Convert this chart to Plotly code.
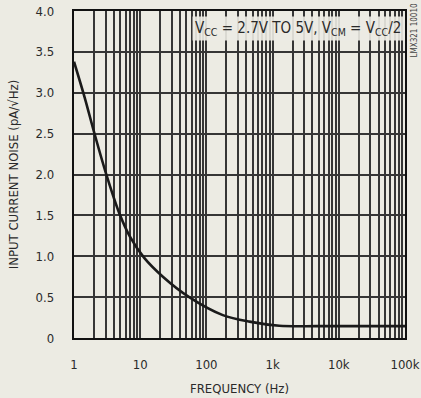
import plotly.graph_objects as go

# Input current noise vs frequency
freq_hz = [1, 1.44, 2.04, 3.0, 4.87, 7, 11.5, 22, 55, 177, 447, 1260, 5000, 100000]
noise_pa = [3.38, 2.95, 2.5, 2.03, 1.52, 1.24, 0.98, 0.75, 0.5, 0.28, 0.2, 0.15, 0.145, 0.145]

decades = [1, 10, 100, 1000, 10000, 100000]
decade_labels = ["1", "10", "100", "1k", "10k", "100k"]
y_ticks = [0, 0.5, 1.0, 1.5, 2.0, 2.5, 3.0, 3.5, 4.0]
y_labels = ["0", "0.5", "1.0", "1.5", "2.0", "2.5", "3.0", "3.5", "4.0"]

# every 1..9 multiple gets a grid line; only decades carry a label
x_vals, x_text = [], []
for d, lab in zip(decades, decade_labels):
    if d == decades[-1]:
        x_vals.append(d)
        x_text.append(lab)
        break
    for m in range(1, 10):
        x_vals.append(d * m)
        x_text.append(lab if m == 1 else "")

BG = "#ecebe3"
FONT = "DejaVu Sans Condensed, Liberation Sans Narrow, Arial Narrow, sans-serif"
INK = "#2a2a2a"

fig = go.Figure()
fig.add_trace(go.Scatter(
    x=freq_hz, y=noise_pa, mode="lines",
    line=dict(color="#1a1a1a", width=2.6, shape="spline", smoothing=0.9),
    showlegend=False,
))

fig.update_layout(
    width=421, height=398,
    margin=dict(l=74, r=16, t=11, b=60),
    paper_bgcolor=BG, plot_bgcolor=BG,
    font=dict(family=FONT, size=13, color=INK),
    xaxis=dict(
        type="log", range=[0, 5], automargin=False,
        tickvals=x_vals, ticktext=x_text,
        ticks="outside", ticklen=13, tickcolor=BG,
        showgrid=True, gridcolor="#363636", gridwidth=1.5,
        showline=True, linecolor="#111", linewidth=2.4, mirror=True,
        zeroline=False,
        title=dict(text="FREQUENCY (Hz)", font=dict(size=13), standoff=13),
        tickfont=dict(size=13),
    ),
    yaxis=dict(
        range=[0, 4.0], automargin=False,
        tickvals=y_ticks, ticktext=y_labels,
        ticks="outside", ticklen=15, tickcolor=BG,
        showgrid=True, gridcolor="#363636", gridwidth=1.5,
        showline=True, linecolor="#111", linewidth=2.4, mirror=True,
        zeroline=False,
        title=dict(text="INPUT CURRENT NOISE (pA/√Hz)", font=dict(size=13), standoff=14),
        tickfont=dict(size=13),
    ),
)

fig.add_annotation(
    xref="paper", yref="paper", x=0.998, y=0.985, xanchor="right", yanchor="top",
    text="V<sub>CC</sub> = 2.7V TO 5V, V<sub>CM</sub> = V<sub>CC</sub>/2",
    showarrow=False, font=dict(size=15, color=INK),
    bgcolor="rgba(236,235,227,0.9)", borderpad=2,
)
fig.add_annotation(
    xref="paper", yref="paper", x=1.0, y=1.0, xshift=2, yshift=9,
    xanchor="left", yanchor="top",
    text="LMX321 10010", textangle=-90, showarrow=False,
    font=dict(size=8, color="#444"),
)

fig.write_html("out.html")
